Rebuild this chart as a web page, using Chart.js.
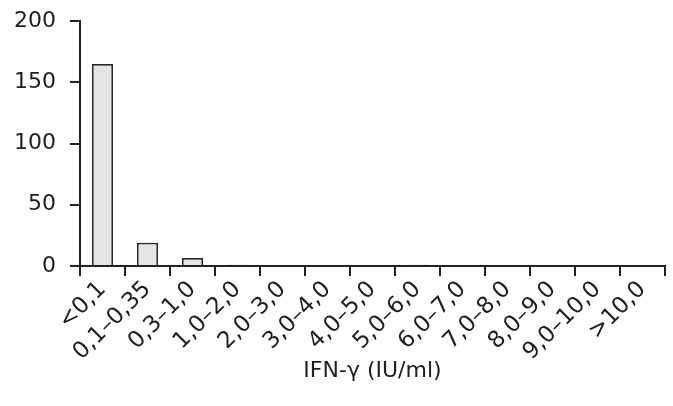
<!DOCTYPE html>
<html><head><meta charset="utf-8">
<script src="https://cdn.jsdelivr.net/npm/chart.js@4/dist/chart.umd.min.js"></script>
<style>html,body{margin:0;padding:0;background:#fff}#w{width:673px;height:406px}</style>
</head><body><div id="w"><canvas id="c"></canvas></div>
<script>
const categories = ["<0,1","0,1–0,35","0,3–1,0","1,0–2,0","2,0–3,0","3,0–4,0","4,0–5,0","5,0–6,0","6,0–7,0","7,0–8,0","8,0–9,0","9,0–10,0",">10,0"];
const counts = [165, 19, 6.5, 1, 0, 0, 0, 1, 0, 0, 0, 0, 0];
const yTicks = [0, 50, 100, 150, 200];
const xTitle = "IFN-γ (IU/ml)";

const FONT = "'DejaVu Sans', sans-serif";
new Chart(document.getElementById('c'), {
  type: 'bar',
  data: { labels: categories, datasets: [{ data: counts, backgroundColor: '#e4e5e5', borderColor: '#2a2a2a', borderWidth: 1.8, categoryPercentage: 1, barPercentage: 0.47 }] },
  options: {
    responsive: true, maintainAspectRatio: false, animation: false,
    devicePixelRatio: 1,
    layout: { padding: { top: 21, right: 8, left: 0, bottom: 22 } },
    plugins: { legend: { display: false }, tooltip: { enabled: false } },
    scales: {
      x: {
        grid: { display: true, offset: true, drawOnChartArea: false, drawTicks: true, tickLength: 10, color: '#222', lineWidth: 2 },
        border: { display: true, color: '#222', width: 2 },
        ticks: { color: '#1e1e1e', font: { family: FONT, size: 23 }, maxRotation: 45, minRotation: 45, padding: 0, autoSkip: false },
        title: { display: true, text: xTitle, color: '#1e1e1e', font: { family: FONT, size: 22 }, padding: { top: 2, bottom: 0 } },
        afterFit: s => { s.height = 118; s.paddingLeft = 0; s.paddingRight = 0; }
      },
      y: {
        min: 0, max: 200,
        afterBuildTicks: s => { s.ticks = yTicks.map(v => ({ value: v })); },
        grid: { display: true, drawOnChartArea: false, drawTicks: true, tickLength: 10, color: '#222', lineWidth: 2 },
        border: { display: true, color: '#222', width: 2 },
        ticks: { color: '#1e1e1e', font: { family: FONT, size: 22 }, padding: 14 },
        afterFit: s => { s.width = 80; s.paddingTop = 0; s.paddingBottom = 0; }
      }
    }
  }
});
</script></body></html>
